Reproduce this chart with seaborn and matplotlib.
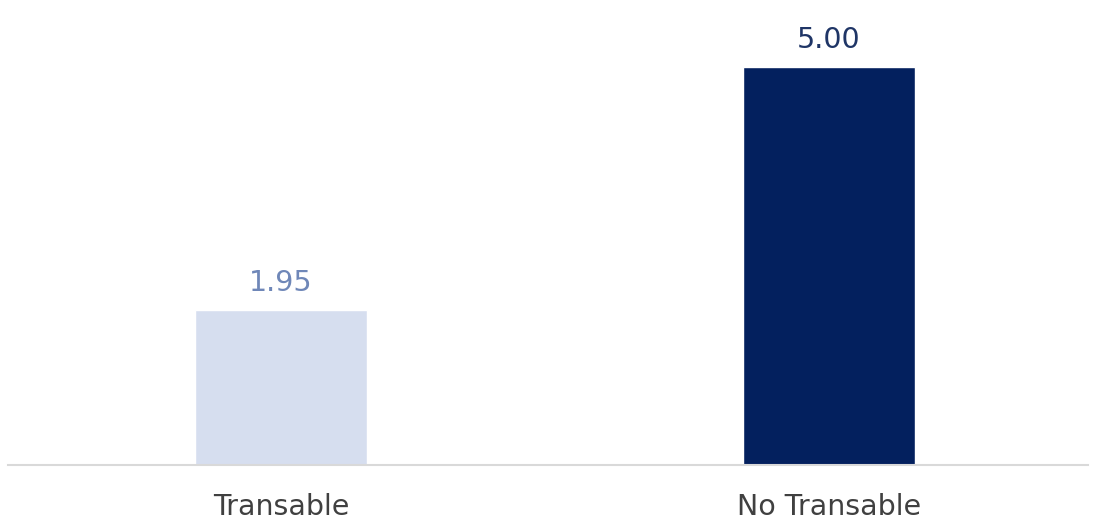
import matplotlib
matplotlib.use("Agg")
import matplotlib.pyplot as plt
import seaborn as sns
import pandas as pd

# Datos
categorias = ["Transable", "No Transable"]
valores = [1.95, 5.00]
colores_barras = ["#D6DEEF", "#03205E"]
colores_etiquetas = ["#6F87B8", "#1F3566"]

df = pd.DataFrame({"categoria": categorias, "valor": valores})

sns.set_theme(style="white")
plt.rcParams["font.family"] = ["DejaVu Sans"]

fig = plt.figure(figsize=(10.95, 5.23), dpi=100)
ax = fig.add_axes([8 / 1095, 1 - 465 / 523, 1080 / 1095, 465 / 523])

sns.barplot(data=df, x="categoria", y="valor", hue="categoria",
            palette=colores_barras, legend=False, width=0.314,
            saturation=1, ax=ax)

# Etiquetas de valores
for cont, col in zip(ax.containers, colores_etiquetas):
    ax.bar_label(cont, fmt="%.2f", padding=9, fontsize=20.5, color=col)

ax.set_xlim(-0.498, 1.473)
ax.set_ylim(0, 5.84)
ax.set_xlabel("")
ax.set_ylabel("")
ax.set_yticks([])
for s in ["top", "right", "left"]:
    ax.spines[s].set_visible(False)
ax.spines["bottom"].set_color("#D9D9D9")
ax.spines["bottom"].set_linewidth(1.5)
ax.tick_params(axis="x", length=0, pad=20, labelsize=20.5, labelcolor="#404040")

fig.savefig("out.png", dpi=100)
